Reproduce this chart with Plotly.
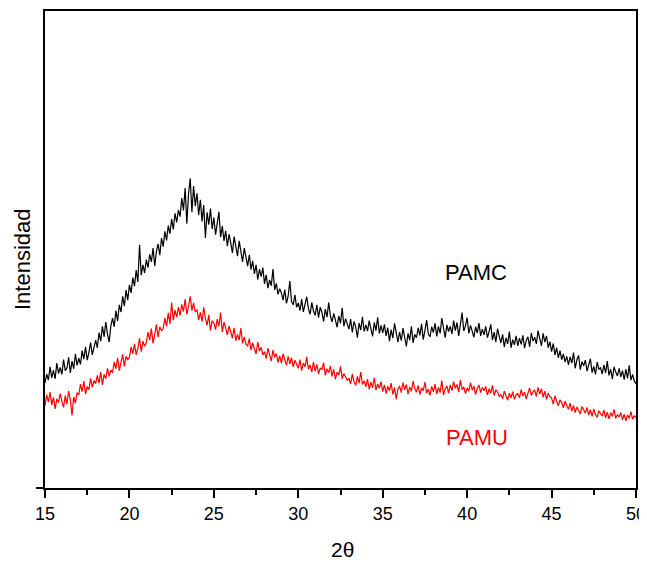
import plotly.graph_objects as go

# Scan grid: 2-theta from 15.0 to 50.0 in 0.1 degree steps
two_theta = [round(15.0 + 0.1 * i, 1) for i in range(351)]

# PAMC intensity (arbitrary units)
pamc = [
    22.0, 23.9, 22.6, 25.4, 23.1, 24.7, 22.9, 26.2, 24.0, 25.3,
    23.8, 26.9, 24.6, 25.2, 27.4, 24.1, 26.6, 25.0, 28.1, 25.7,
    27.2, 25.9, 28.8, 27.0, 29.6, 26.8, 28.4, 30.5, 27.9, 29.2,
    31.0, 29.4, 32.6, 30.8, 33.9, 31.7, 34.8, 32.2, 30.6, 34.0,
    35.6, 33.8, 37.2, 35.0, 38.4, 36.9, 40.2, 38.1, 41.5, 39.4,
    42.6, 40.9, 44.1, 42.3, 45.7, 43.2, 51.0, 44.6, 46.8, 45.1,
    47.9, 46.2, 49.0, 47.4, 50.3, 46.5, 49.6, 51.2, 48.8, 52.4,
    50.6, 53.8, 51.9, 55.0, 53.3, 56.4, 54.2, 57.6, 55.7, 58.3,
    56.9, 60.8, 58.2, 62.9, 55.4, 61.7, 64.9, 57.8, 63.3, 59.1,
    61.8, 57.2, 60.4, 55.9, 59.3, 52.4, 57.8, 55.2, 58.6, 54.3,
    56.7, 53.1, 55.8, 57.9, 52.6, 54.9, 51.8, 53.9, 50.7, 53.2,
    51.4, 49.3, 52.7, 50.2, 48.6, 51.8, 49.5, 47.4, 50.3, 48.1,
    46.5, 48.9, 45.8, 47.6, 44.9, 46.8, 43.7, 45.9, 44.3, 46.2,
    42.8, 44.7, 41.9, 43.6, 42.4, 45.9, 41.5, 42.9, 40.6, 41.8,
    40.9, 39.4, 41.6, 38.7, 40.2, 43.4, 39.1, 38.4, 40.5, 37.9,
    38.8, 37.2, 39.6, 36.9, 38.5, 40.1, 37.6, 36.4, 38.9, 37.1,
    36.2, 38.4, 35.7, 37.9, 36.8, 34.9, 37.5, 35.8, 38.9, 36.1,
    34.8, 36.6, 35.2, 33.7, 36.1, 34.5, 37.8, 33.9, 35.5, 34.2,
    33.3, 35.4, 32.6, 34.9, 33.8, 31.5, 34.6, 33.1, 35.9, 32.8,
    34.2, 32.9, 35.1, 33.4, 31.8, 34.7, 33.0, 35.8, 32.4, 34.1,
    32.5, 34.3, 31.9, 33.6, 30.8, 33.2, 31.4, 34.5, 32.0, 30.6,
    32.7, 30.9, 33.5, 31.2, 29.7, 32.4, 31.0, 33.9, 30.4, 32.2,
    31.5, 33.6, 32.0, 34.4, 31.1, 33.0, 35.2, 32.3, 31.7, 33.8,
    32.6, 34.5, 31.8, 33.9, 32.4, 35.6, 33.1, 31.5, 34.2, 32.8,
    33.9, 32.3, 35.1, 33.0, 34.7, 31.9, 34.3, 36.8, 32.9, 34.0,
    35.7, 32.4, 34.1, 33.0, 31.6, 33.8, 32.5, 34.6, 31.9, 33.3,
    32.1, 33.9, 31.5, 32.8, 34.3, 31.0, 32.7, 30.6, 33.4, 31.8,
    30.4, 32.2, 29.6, 31.5, 30.2, 32.8, 29.4, 31.1, 30.0, 31.9,
    29.8, 31.4, 30.1, 32.0, 29.3, 30.9, 31.7, 29.6, 32.5, 30.8,
    31.6, 30.2, 33.0, 31.3, 29.8, 32.4, 30.6, 31.9, 29.4, 30.7,
    28.6, 30.3, 27.9, 29.4, 27.3, 28.8, 26.9, 28.1, 26.4, 27.6,
    25.8, 27.5, 26.2, 28.4, 25.1, 26.9, 27.8, 24.8, 26.5, 25.6,
    26.8, 24.5, 25.9, 27.1, 24.2, 25.5, 23.8, 26.4, 24.9, 25.2,
    23.9, 25.8, 24.1, 26.6, 23.6, 24.9, 22.8, 25.4, 24.3, 23.5,
    25.1, 23.3, 24.6, 22.7, 24.9, 23.0, 25.7, 22.6, 23.8, 22.4,
    21.9,
]

# PAMU intensity (arbitrary units)
pamu = [
    17.2, 19.6, 18.0, 20.1, 17.4, 19.0, 16.6, 18.7, 17.9, 19.8,
    18.2, 16.9, 19.4, 17.6, 20.3, 18.5, 15.2, 19.1, 17.8, 20.0,
    19.5, 21.8, 20.2, 22.4, 19.7, 21.3, 20.6, 23.0, 21.1, 22.5,
    21.9, 23.6, 22.0, 24.3, 21.6, 23.8, 22.9, 25.1, 23.4, 24.7,
    24.2, 26.4, 25.0, 27.3, 24.6, 26.1, 28.0, 25.5, 27.6, 26.9,
    27.4, 29.6, 28.1, 30.2, 27.9, 29.3, 31.4, 28.6, 30.8, 29.7,
    30.5, 32.7, 31.0, 33.4, 30.3, 32.2, 34.3, 31.6, 33.8, 32.9,
    33.5, 35.6, 33.9, 36.7, 34.4, 38.9, 35.2, 37.3, 35.8, 37.9,
    36.2, 38.5, 37.0, 39.6, 36.4, 38.1, 40.2, 37.2, 38.8, 36.9,
    37.4, 35.2, 36.8, 34.9, 37.9, 35.6, 34.1, 36.3, 33.0, 35.1,
    34.6, 33.2, 35.4, 33.9, 36.8, 32.7, 34.8, 33.5, 32.1, 34.0,
    32.8, 31.4, 33.6, 30.9, 32.2, 31.0, 33.5, 30.3, 31.7, 30.1,
    29.8, 31.3, 28.9, 30.4, 29.2, 28.1, 30.6, 28.7, 29.5, 27.9,
    28.6, 27.1, 29.3, 27.8, 26.6, 28.9, 27.4, 28.2, 26.3, 27.7,
    26.2, 28.1, 26.9, 25.7, 27.6, 26.0, 27.3, 25.4, 26.8, 25.9,
    25.1, 26.9, 24.6, 26.2, 25.4, 27.5, 24.9, 25.8, 24.3, 26.4,
    24.5, 25.9, 23.9, 25.2, 24.8, 26.3, 23.6, 25.0, 24.2, 25.6,
    23.4, 24.9, 22.8, 24.3, 23.7, 25.5, 22.9, 24.0, 23.2, 22.6,
    23.0, 21.8, 23.9, 22.3, 21.5, 23.4, 22.0, 24.3, 21.7, 22.5,
    21.2, 22.8, 20.7, 22.2, 21.0, 23.1, 20.5, 21.8, 20.9, 22.3,
    20.2, 21.6, 19.8, 21.3, 20.4, 22.0, 19.6, 21.1, 18.6, 20.7,
    21.4, 20.0, 22.1, 20.6, 21.7, 19.7, 21.2, 20.3, 22.4, 20.8,
    20.1, 21.5, 19.6, 21.0, 20.4, 22.2, 19.9, 20.7, 19.4, 21.3,
    20.2, 21.8, 19.7, 21.1, 20.0, 22.5, 19.5, 20.8, 21.4, 19.9,
    21.6, 20.4, 22.3, 20.9, 21.7, 20.1, 22.6, 20.6, 21.2, 19.8,
    21.0, 20.3, 22.1, 20.5, 21.4, 19.6, 20.9, 21.6, 20.0, 21.1,
    20.4, 21.3, 19.5, 20.8, 19.9, 21.5, 19.4, 20.6, 20.1, 19.2,
    19.6, 18.7, 20.3, 19.1, 18.4, 19.9, 18.9, 20.2, 18.6, 19.5,
    19.8, 18.9, 20.6, 19.3, 20.1, 18.7, 19.9, 21.0, 19.4, 20.2,
    20.5, 19.2, 21.1, 19.7, 20.8, 19.0, 20.3, 18.6, 19.9, 19.1,
    18.9, 17.6, 19.3, 18.1, 17.2, 18.5, 17.9, 16.8, 18.2, 17.3,
    16.5, 17.8, 16.1, 17.3, 15.8, 17.0, 16.4, 15.5, 17.1, 16.2,
    15.7, 16.9, 15.3, 16.4, 15.0, 16.6, 15.4, 14.8, 16.2, 15.6,
    15.1, 16.3, 14.7, 15.9, 14.5, 15.8, 15.0, 16.5, 14.6, 15.4,
    14.9, 15.8, 14.3, 15.5, 14.1, 15.3, 14.6, 16.0, 14.4, 15.2,
    14.7,
]

x_ticks = [15, 20, 25, 30, 35, 40, 45, 50]
labels = ["PAMC", "PAMU"]
label_pos = [(40.55, 45.2), (40.6, 10.5)]
colors = ["#000000", "#ff0000"]

FONT = "Liberation Sans, Arial, sans-serif"

fig = go.Figure()
for name, ys, col in zip(labels, [pamc, pamu], colors):
    fig.add_trace(go.Scatter(x=two_theta, y=ys, mode="lines", name=name,
                             line=dict(color=col, width=1.2), showlegend=False))

for name, (lx, ly), col in zip(labels, label_pos, colors):
    fig.add_annotation(x=lx, y=ly, text=name, showarrow=False,
                       font=dict(family=FONT, size=22, color=col),
                       xanchor="center", yanchor="middle")

fig.add_annotation(xref="paper", yref="paper", x=-0.039, y=0.480,
                   text="Intensidad", textangle=-90, showarrow=False,
                   font=dict(family=FONT, size=22, color="#000000"),
                   xanchor="center", yanchor="middle")
fig.add_annotation(xref="paper", yref="paper", x=0.503, y=-0.129,
                   text="2θ", showarrow=False,
                   font=dict(family=FONT, size=21, color="#000000"),
                   xanchor="center", yanchor="middle")

fig.update_layout(
    width=639, height=555,
    margin=dict(l=37, r=10, t=1, b=75),
    paper_bgcolor="white", plot_bgcolor="white",
    font=dict(family=FONT, size=18, color="#000000"),
)
fig.update_xaxes(
    range=[15, 50], tickvals=x_ticks, ticktext=[str(t) for t in x_ticks],
    ticks="outside", ticklen=8, tickwidth=1.5, tickcolor="#000000",
    minor=dict(ticks="outside", ticklen=5, tickwidth=1.5, dtick=2.5, tick0=15, tickcolor="#000000"),
    showline=True, linecolor="#000000", linewidth=2, mirror=True,
    showgrid=False, zeroline=False, ticklabeloverflow="allow",
    tickfont=dict(family=FONT, size=18, color="#000000"),
)
fig.update_yaxes(
    range=[0, 100], tickvals=[0], ticktext=[""],
    ticks="outside", ticklen=7, tickwidth=1.5, tickcolor="#000000",
    showline=True, linecolor="#000000", linewidth=2, mirror=True,
    showgrid=False, zeroline=False, showticklabels=False,
)

fig.write_html("out.html")
